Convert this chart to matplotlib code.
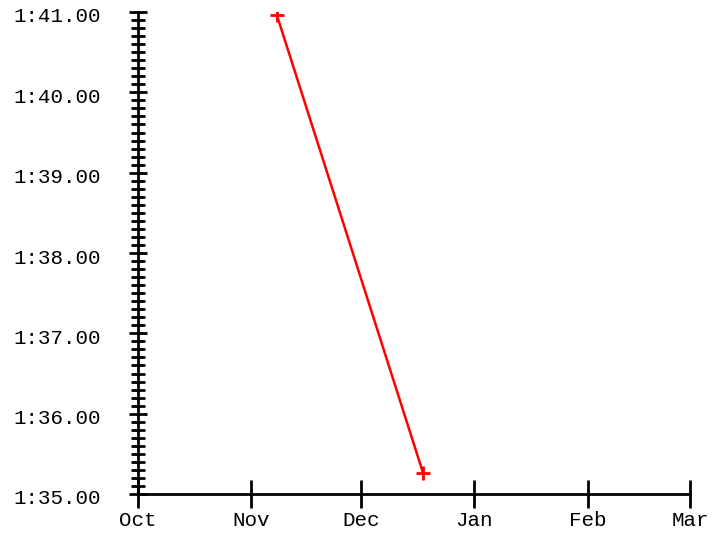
import datetime as dt
import matplotlib
matplotlib.use("Agg")
import matplotlib.pyplot as plt
import matplotlib.dates as mdates
import matplotlib.transforms as mtransforms
from matplotlib.ticker import FuncFormatter, MultipleLocator

# race dates and times (seconds)
dates = [dt.datetime(2018, 11, 8), dt.datetime(2018, 12, 18)]
times = [100.96, 95.26]

x_start = dt.datetime(2018, 10, 1)
x_end = dt.datetime(2019, 3, 1)
y_min, y_max = 95.0, 101.0

plt.rcParams['font.family'] = ['Liberation Mono', 'DejaVu Sans']

fig = plt.figure(figsize=(7.28, 5.35), dpi=100)
ax = fig.add_axes([138 / 728, 1 - 494 / 535, (690 - 138) / 728, (494 - 12) / 535])

ax.plot(dates, times, color='#ff0000', lw=1.8, marker='+', ms=10, mew=2)

ax.set_xlim(x_start, x_end)
ax.set_ylim(y_min, y_max)

def fmt_time(v, pos):
    m = int(v // 60)
    s = v - m * 60
    return "%d:%05.2f" % (m, s)

ax.yaxis.set_major_locator(MultipleLocator(1))
ax.yaxis.set_minor_locator(MultipleLocator(0.1))
ax.yaxis.set_major_formatter(FuncFormatter(fmt_time))

ax.xaxis.set_major_locator(mdates.MonthLocator())
ax.xaxis.set_major_formatter(mdates.DateFormatter('%b'))

for s in ['top', 'right']:
    ax.spines[s].set_visible(False)
for s in ['left', 'bottom']:
    ax.spines[s].set_linewidth(2)

ax.tick_params(axis='y', which='major', direction='inout', length=13, width=2, labelsize=15, pad=20)
ax.tick_params(axis='y', which='minor', direction='inout', length=9.5, width=2)
ax.tick_params(axis='x', which='major', direction='inout', length=20, width=2, labelsize=15, pad=2)

# y labels sit a little below their ticks in the original
shift = mtransforms.ScaledTranslation(0, -3 / 100, fig.dpi_scale_trans)
for lbl in ax.get_yticklabels():
    lbl.set_transform(lbl.get_transform() + shift)

fig.savefig('out.png', dpi=100)
